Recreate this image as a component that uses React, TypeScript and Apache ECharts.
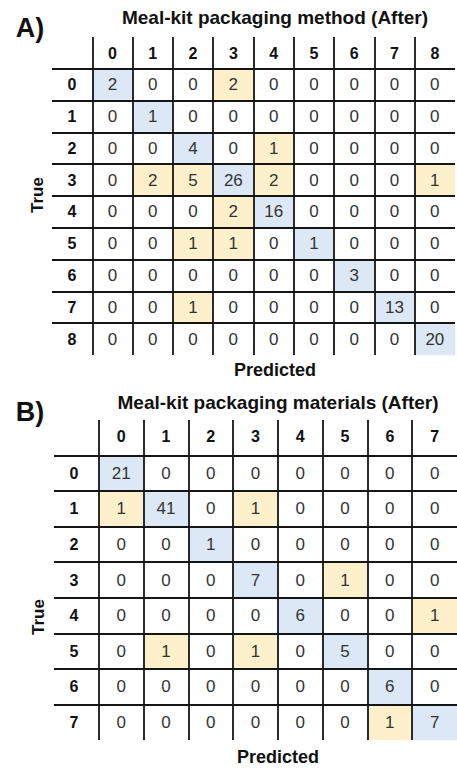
import React, { useEffect, useRef } from "react";
import * as echarts from "echarts";

const classesA = ["0", "1", "2", "3", "4", "5", "6", "7", "8"];
const matrixA = [
  [2, 0, 0, 2, 0, 0, 0, 0, 0],
  [0, 1, 0, 0, 0, 0, 0, 0, 0],
  [0, 0, 4, 0, 1, 0, 0, 0, 0],
  [0, 2, 5, 26, 2, 0, 0, 0, 1],
  [0, 0, 0, 2, 16, 0, 0, 0, 0],
  [0, 0, 1, 1, 0, 1, 0, 0, 0],
  [0, 0, 0, 0, 0, 0, 3, 0, 0],
  [0, 0, 1, 0, 0, 0, 0, 13, 0],
  [0, 0, 0, 0, 0, 0, 0, 0, 20],
];

const classesB = ["0", "1", "2", "3", "4", "5", "6", "7"];
const matrixB = [
  [21, 0, 0, 0, 0, 0, 0, 0],
  [1, 41, 0, 1, 0, 0, 0, 0],
  [0, 0, 1, 0, 0, 0, 0, 0],
  [0, 0, 0, 7, 0, 1, 0, 0],
  [0, 0, 0, 0, 6, 0, 0, 1],
  [0, 1, 0, 1, 0, 5, 0, 0],
  [0, 0, 0, 0, 0, 0, 6, 0],
  [0, 0, 0, 0, 0, 0, 1, 7],
];

const titleA = "Meal-kit packaging method (After)";
const titleB = "Meal-kit packaging materials (After)";
const xName = "Predicted";
const yName = "True";

const BLUE = "#dce8f5";
const YELLOW = "#fdf0cb";
const LINE = "#151515";
const FONT = "'Liberation Sans', Arial, sans-serif";

// value: [col, row, count, kind] kind 0 = empty, 1 = correct (diagonal), 2 = misclassified
function cells(matrix: number[][]) {
  const out: any[] = [];
  matrix.forEach((row, r) =>
    row.forEach((v, c) => {
      const kind = r === c ? 1 : v > 0 ? 2 : 0;
      out.push([c + 1, r + 1, v, kind]);
    })
  );
  return out;
}

function axes(idx: number, classes: string[]) {
  const cats = ["", ...classes];
  const split = {
    show: true,
    interval: 0,
    showMinLine: false,
    showMaxLine: false,
    lineStyle: { color: LINE, width: 1.8 },
  };
  const x = {
    type: "category",
    gridIndex: idx,
    data: cats,
    position: "top",
    z: 10,
    axisLine: { show: false },
    axisTick: { show: false },
    axisLabel: {
      inside: true,
      interval: 0,
      margin: 16,
      verticalAlign: "middle",
      fontWeight: "bold",
      fontSize: 16,
      color: "#111",
      fontFamily: FONT,
    },
    splitLine: split,
  };
  const y = {
    type: "category",
    gridIndex: idx,
    data: cats,
    inverse: true,
    position: "left",
    z: 10,
    axisLine: { show: false },
    axisTick: { show: false },
    axisLabel: {
      inside: true,
      interval: 0,
      margin: 20,
      align: "center",
      verticalAlign: "middle",
      fontWeight: "bold",
      fontSize: 16,
      color: "#111",
      fontFamily: FONT,
    },
    splitLine: split,
  };
  return { x, y };
}

function txt(text: string, x: number, y: number, size: number, extra: any = {}) {
  return {
    type: "text",
    x,
    y,
    z: 100,
    ...extra,
    style: {
      text,
      fontSize: size,
      fontWeight: "bold",
      fontFamily: FONT,
      fill: "#111",
      align: "center",
      verticalAlign: "middle",
    },
  };
}

export default function App() {
  const ref = useRef<HTMLDivElement>(null);
  useEffect(() => {
    if (!ref.current) return;
    const chart = echarts.init(ref.current, undefined, { renderer: "svg" });
    const a = axes(0, classesA);
    const b = axes(1, classesB);
    const seriesCommon = {
      type: "heatmap",
      z: 1,
      label: {
        show: true,
        formatter: (p: any) => String(p.value[2]),
        fontSize: 17,
        color: "#333",
        fontFamily: FONT,
      },
      emphasis: { disabled: true },
      itemStyle: { borderWidth: 0 },
    };
    chart.setOption({
      animation: false,
      textStyle: { fontFamily: FONT },
      grid: [
        { left: 52, top: 37, width: 403, height: 318 },
        { left: 54, top: 420, width: 403, height: 320 },
      ],
      xAxis: [a.x, b.x],
      yAxis: [a.y, b.y],
      visualMap: {
        type: "piecewise",
        show: false,
        dimension: 3,
        seriesIndex: [0, 1],
        pieces: [
          { value: 0, color: "rgba(255,255,255,0)" },
          { value: 1, color: BLUE },
          { value: 2, color: YELLOW },
        ],
      },
      series: [
        { ...seriesCommon, xAxisIndex: 0, yAxisIndex: 0, data: cells(matrixA) },
        { ...seriesCommon, xAxisIndex: 1, yAxisIndex: 1, data: cells(matrixB) },
      ],
      graphic: [
        txt("A)", 30, 28, 27),
        txt(titleA, 275, 17, 19),
        txt(xName, 275, 370, 18),
        txt(yName, 37, 195, 17, { rotation: Math.PI / 2 }),
        txt("B)", 30, 412, 27),
        txt(titleB, 278, 402, 19),
        txt(xName, 278, 757, 18),
        txt(yName, 38, 617, 17, { rotation: Math.PI / 2 }),
      ],
    });
    return () => chart.dispose();
  }, []);
  return (
    <div
      ref={ref}
      style={{ position: "fixed", left: 0, top: 0, width: 457, height: 768, background: "#fff" }}
    />
  );
}
